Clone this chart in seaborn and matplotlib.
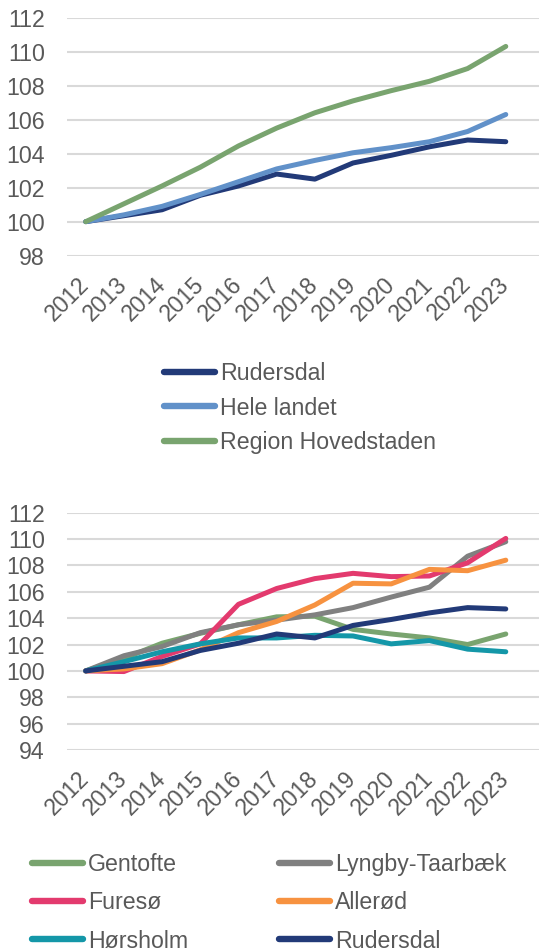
import matplotlib
matplotlib.use("Agg")
import matplotlib.pyplot as plt
import matplotlib.transforms as mtransforms
from matplotlib.lines import Line2D
import seaborn as sns
import pandas as pd

years = [2012, 2013, 2014, 2015, 2016, 2017, 2018, 2019, 2020, 2021, 2022, 2023]
year_labels = [str(y) for y in years]

# Top chart
rudersdal = [100, 100.35, 100.7, 101.55, 102.1, 102.8, 102.5, 103.45, 103.9, 104.4, 104.8, 104.7]
hele_landet = [100, 100.4, 100.9, 101.6, 102.35, 103.1, 103.6, 104.05, 104.35, 104.7, 105.3, 106.3]
region_hovedstaden = [100, 101.05, 102.1, 103.2, 104.45, 105.5, 106.4, 107.1, 107.7, 108.25, 109.0, 110.3]

# Bottom chart
gentofte = [100, 100.95, 102.1, 102.85, 103.5, 104.1, 104.15, 103.15, 102.8, 102.5, 102.0, 102.8]
lyngby = [100, 101.15, 101.85, 102.9, 103.5, 103.85, 104.25, 104.8, 105.6, 106.35, 108.7, 109.8]
fureso = [100, 99.95, 101.1, 102.05, 105.05, 106.25, 107.0, 107.4, 107.15, 107.2, 108.2, 110.05]
allerod = [100, 100.15, 100.55, 101.6, 102.9, 103.75, 105.0, 106.65, 106.6, 107.7, 107.6, 108.4]
horsholm = [100, 100.7, 101.45, 102.05, 102.5, 102.5, 102.7, 102.65, 102.05, 102.3, 101.65, 101.45]

top_names = ["Rudersdal", "Hele landet", "Region Hovedstaden"]
top_series = [rudersdal, hele_landet, region_hovedstaden]
top_colors = ["#223A78", "#6191C9", "#79A46F"]

bot_names = ["Gentofte", "Lyngby-Taarbæk", "Furesø", "Allerød", "Hørsholm", "Rudersdal"]
bot_series = [gentofte, lyngby, fureso, allerod, horsholm, rudersdal]
bot_colors = ["#79A46F", "#808080", "#E33A6E", "#F79240", "#1497A8", "#223A78"]

sns.set_style("white")
plt.rcParams["font.family"] = ["Liberation Sans", "DejaVu Sans"]
TXT = "#595959"
FS = 16.7
LW = 3.6

W, H = 539, 948
fig = plt.figure(figsize=(W / 100, H / 100), dpi=100)


def px_axes(left, top, right, bottom):
    return fig.add_axes([left / W, 1 - bottom / H, (right - left) / W, (bottom - top) / H])


def long_df(names, series):
    rows = []
    for n, s in zip(names, series):
        for y, v in zip(years, s):
            rows.append({"year": y, "value": v, "series": n})
    return pd.DataFrame(rows)


def style_axes(ax, ymin, ymax):
    ax.set_ylim(ymin, ymax)
    ax.set_yticks(list(range(ymin, ymax + 1, 2)))
    x0 = years[0]
    ax.set_xlim(x0 - 0.49, years[-1] + 0.87)
    ax.set_xticks(years)
    ax.set_xticklabels(year_labels, rotation=45, ha="right", va="center",
                       rotation_mode="anchor")
    offset = mtransforms.ScaledTranslation(4 / 100, 0, fig.dpi_scale_trans)
    for lab in ax.get_xticklabels():
        lab.set_transform(lab.get_transform() + offset)
    ax.tick_params(axis="x", length=0, pad=18, labelsize=FS, labelcolor=TXT)
    ax.tick_params(axis="y", length=0, pad=16, labelsize=FS, labelcolor=TXT)
    ax.grid(axis="y", color="#D9D9D9", linewidth=1.5)
    ax.grid(axis="x", visible=False)
    for sp in ax.spines.values():
        sp.set_visible(False)
    ax.set_xlabel("")
    ax.set_ylabel("")
    ax.set_axisbelow(True)


# Top chart
ax1 = px_axes(67, 17.5, 539, 255.7)
df1 = long_df(top_names, top_series)
sns.lineplot(data=df1, x="year", y="value", hue="series", hue_order=top_names,
             palette=top_colors, linewidth=LW, ax=ax1, legend=False)
for ln in ax1.lines:
    ln.set_solid_capstyle("round")
    ln.set_solid_joinstyle("round")
style_axes(ax1, 98, 112)

h1 = [Line2D([], [], color=c, lw=LW + 1, solid_capstyle="round") for c in top_colors]
fig.legend(h1, top_names, loc="upper left", bbox_to_anchor=(164 / W, 1 - 362 / H),
           frameon=False, fontsize=FS, labelcolor=TXT, handlelength=2.2,
           handletextpad=0.2, labelspacing=0.5, borderpad=0, borderaxespad=0)

# Bottom chart
ax2 = px_axes(67, 512.7, 539, 750)
df2 = long_df(bot_names, bot_series)
sns.lineplot(data=df2, x="year", y="value", hue="series", hue_order=bot_names,
             palette=bot_colors, linewidth=LW, ax=ax2, legend=False)
for ln in ax2.lines:
    ln.set_solid_capstyle("round")
    ln.set_solid_joinstyle("round")
style_axes(ax2, 94, 112)

h2 = [Line2D([], [], color=c, lw=LW + 1, solid_capstyle="round") for c in bot_colors]
order = [0, 2, 4, 1, 3, 5]
fig.legend([h2[i] for i in order], [bot_names[i] for i in order], ncol=2,
           loc="upper left", bbox_to_anchor=(32 / W, 1 - 853 / H),
           frameon=False, fontsize=FS, labelcolor=TXT, handlelength=2.2,
           handletextpad=0.2, labelspacing=0.66, columnspacing=3.95,
           borderpad=0, borderaxespad=0)

fig.savefig("out.png", dpi=100)
